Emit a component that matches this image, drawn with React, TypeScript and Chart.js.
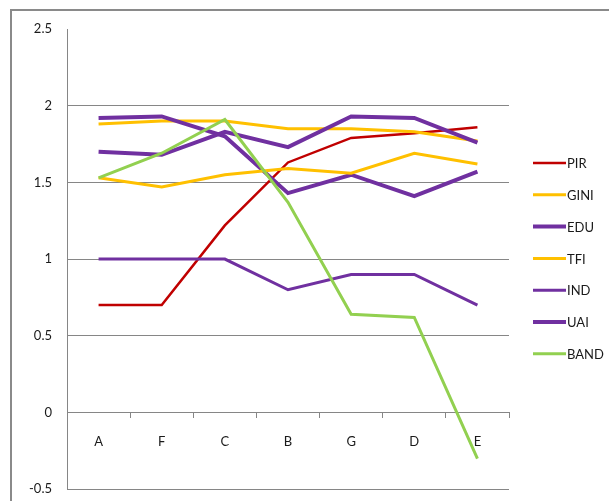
import React, { useEffect, useRef } from "react";
import { Chart, registerables } from "chart.js";

Chart.register(...registerables);

const categories = ["A", "F", "C", "B", "G", "D", "E"];
const seriesNames = ["PIR", "GINI", "EDU", "TFI", "IND", "UAI", "BAND"];
const pir = [0.7, 0.7, 1.22, 1.63, 1.79, 1.82, 1.86];
const gini = [1.88, 1.9, 1.9, 1.85, 1.85, 1.83, 1.77];
const edu = [1.92, 1.93, 1.8, 1.43, 1.55, 1.41, 1.57];
const tfi = [1.53, 1.47, 1.55, 1.59, 1.56, 1.69, 1.62];
const ind = [1.0, 1.0, 1.0, 0.8, 0.9, 0.9, 0.7];
const uai = [1.7, 1.68, 1.83, 1.73, 1.93, 1.92, 1.76];
const band = [1.53, 1.69, 1.91, 1.37, 0.64, 0.62, -0.3];
const seriesValues = [pir, gini, edu, tfi, ind, uai, band];
const seriesColors = ["#C00000", "#FFC000", "#7030A0", "#FFC000", "#7030A0", "#7030A0", "#92D050"];
const seriesWidths = [2.5, 3, 4, 3, 3, 4, 3];

const FONT = "Lato, 'Open Sans', sans-serif";

const legendPlugin = {
  id: "customLegend",
  afterDraw(chart: any) {
    const ctx = chart.ctx;
    ctx.save();
    chart.data.datasets.forEach((ds: any, i: number) => {
      const y = 163 + i * 31.8;
      ctx.strokeStyle = ds.borderColor;
      ctx.lineWidth = ds.borderWidth;
      ctx.beginPath();
      ctx.moveTo(533, y);
      ctx.lineTo(566, y);
      ctx.stroke();
      ctx.fillStyle = "#1a1a1a";
      ctx.font = `13px ${FONT}`;
      ctx.textBaseline = "middle";
      ctx.textAlign = "left";
      ctx.fillText(ds.label, 567, y + 1);
    });
    ctx.restore();
  },
};

export default function App() {
  const ref = useRef<HTMLCanvasElement>(null);
  useEffect(() => {
    if (!ref.current) return;
    const chart = new Chart(ref.current, {
      type: "line",
      data: {
        labels: categories,
        datasets: seriesNames.map((name, i) => ({
          label: name,
          data: seriesValues[i],
          borderColor: seriesColors[i],
          backgroundColor: seriesColors[i],
          borderWidth: seriesWidths[i],
          pointRadius: 0,
          tension: 0,
          fill: false,
          order: seriesNames.length - 1 - i,
        })),
      },
      options: {
        animation: false,
        responsive: false,
        layout: { padding: { left: 0, right: 100, top: 29, bottom: 1 } },
        plugins: { legend: { display: false }, tooltip: { enabled: false } },
        scales: {
          y: {
            min: -0.5,
            max: 2.5,
            ticks: {
              stepSize: 0.5,
              padding: 15,
              color: "#1a1a1a",
              font: { family: FONT, size: 13 },
              callback: (v: any) => String(Number(v)),
            },
            grid: {
              drawTicks: false,
              color: (c: any) => (c.tick && c.tick.value === 2.5 ? "rgba(0,0,0,0)" : "#868686"),
              lineWidth: 1,
            },
            border: { display: true, color: "#868686", width: 1 },
            afterFit: (s: any) => {
              s.width = 67;
            },
          },
          x: {
            position: { y: 0 } as any,
            offset: true,
            ticks: {
              padding: 17,
              color: "#1a1a1a",
              font: { family: FONT, size: 13 },
              maxRotation: 0,
            },
            grid: {
              offset: true,
              drawOnChartArea: false,
              drawTicks: true,
              tickLength: 5,
              color: "#868686",
            },
            border: { display: true, color: "#868686", width: 1 },
          },
        },
      },
      plugins: [legendPlugin],
    });
    return () => chart.destroy();
  }, []);
  return (
    <div style={{ position: "fixed", left: 0, top: 0, width: 609, height: 501, background: "#fff", overflow: "hidden" }}>
      <div
        style={{
          position: "absolute",
          left: 10,
          top: 9,
          width: 700,
          height: 600,
          borderLeft: "2px solid #8a8a8a",
          borderTop: "2px solid #8a8a8a",
        }}
      />
      <canvas ref={ref} width={609} height={512} style={{ position: "absolute", left: 0, top: 0 }} />
    </div>
  );
}
